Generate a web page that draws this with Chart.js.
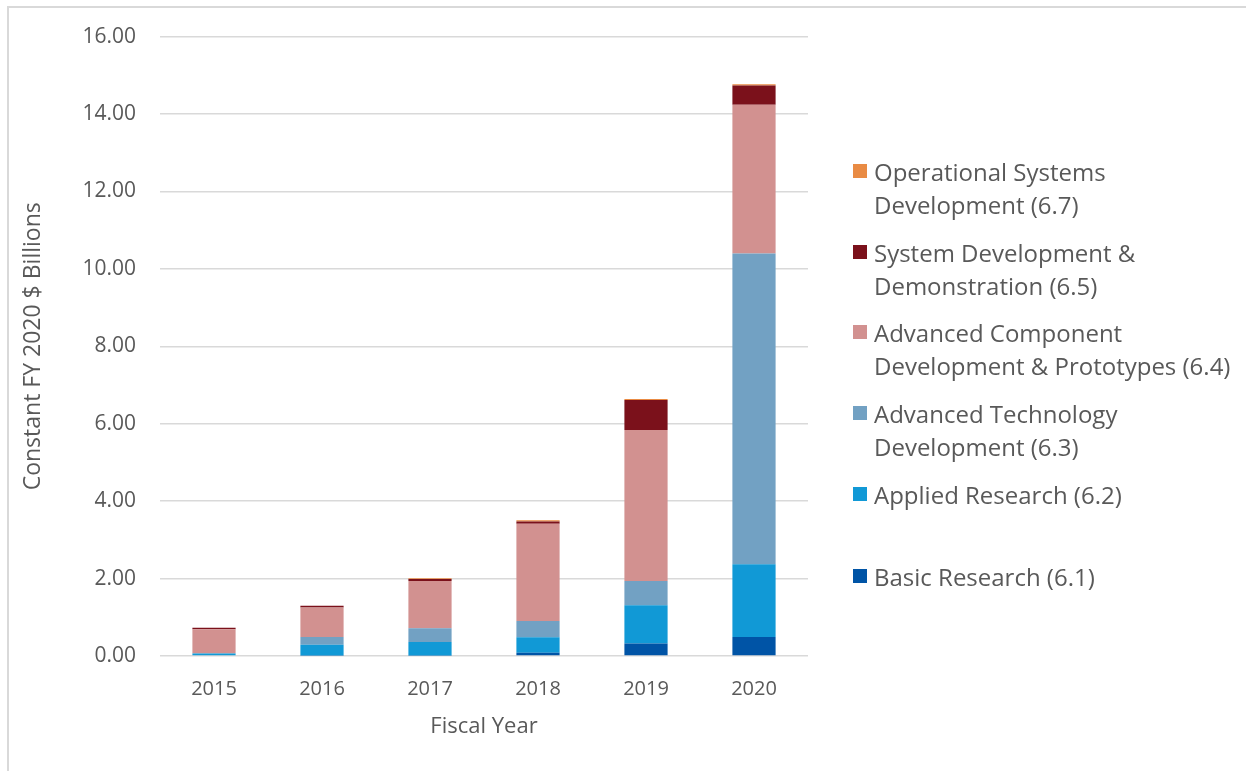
<!DOCTYPE html>
<html>
<head>
<meta charset="utf-8">
<script src="https://cdn.jsdelivr.net/npm/chart.js@4.4.0/dist/chart.umd.min.js"></script>
<style>
  html, body { margin: 0; padding: 0; background: #ffffff; }
  #wrap { position: relative; width: 1246px; height: 771px; overflow: hidden; font-family: "Open Sans", sans-serif; }
  #frame { position: absolute; left: 7px; top: 6px; right: -10px; bottom: -10px; border-left: 2px solid #d9d9d9; border-top: 2px solid #d9d9d9; pointer-events: none; }
  #c { position: absolute; left: 0; top: 0; }
  #legend { position: absolute; left: 0; top: 0; width: 1246px; height: 771px; pointer-events: none; }
  .item { position: absolute; left: 853px; display: flex; align-items: flex-start; }
  .sw { width: 14px; height: 14px; margin-top: 9px; margin-right: 7px; flex: none; }
  .txt { font-family: "Open Sans", sans-serif; font-size: 24px; line-height: 33px; color: #595959; white-space: nowrap; }
</style>
</head>
<body>
<div id="wrap">
  <canvas id="c" width="1246" height="771"></canvas>
  <div id="frame"></div>
  <div id="legend"></div>
</div>
<script>
const years = ["2015", "2016", "2017", "2018", "2019", "2020"];

const basicResearch      = [0.00, 0.01, 0.01, 0.085, 0.32, 0.49];
const appliedResearch    = [0.06, 0.28, 0.35, 0.40, 0.99, 1.88];
const advTechDev         = [0.02, 0.20, 0.36, 0.42, 0.63, 8.03];
const advComponentDev    = [0.61, 0.76, 1.22, 2.51, 3.90, 3.84];
const systemDevDemo      = [0.04, 0.05, 0.05, 0.06, 0.77, 0.50];
const operationalSysDev  = [0.00, 0.00, 0.02, 0.03, 0.03, 0.03];

const seriesNames = [
  ["Basic Research (6.1)"],
  ["Applied Research (6.2)"],
  ["Advanced Technology", "Development (6.3)"],
  ["Advanced Component", "Development & Prototypes (6.4)"],
  ["System Development &", "Demonstration (6.5)"],
  ["Operational Systems", "Development (6.7)"]
];
const seriesColors = ["#0054a6", "#1199d6", "#72a1c3", "#d29190", "#7b111b", "#e98b44"];
const seriesValues = [basicResearch, appliedResearch, advTechDev, advComponentDev, systemDevDemo, operationalSysDev];

const yTicks = [0, 2, 4, 6, 8, 10, 12, 14, 16];

const textColor = "#595959";
const gridColor = "#d9d9d9";

const datasets = seriesValues.map((vals, i) => ({
  label: seriesNames[i].join(" "),
  data: vals,
  backgroundColor: seriesColors[i],
  borderWidth: 0,
  barPercentage: 0.4,
  categoryPercentage: 1.0
}));

const chart = new Chart(document.getElementById("c"), {
  type: "bar",
  data: { labels: years, datasets: datasets },
  options: {
    responsive: false,
    animation: false,
    devicePixelRatio: 1,
    layout: { padding: { left: 0, right: 438, top: 36, bottom: 31 } },
    plugins: { legend: { display: false }, tooltip: { enabled: false } },
    scales: {
      x: {
        stacked: true,
        grid: { display: false, drawTicks: false },
        border: { display: false },
        ticks: { color: textColor, font: { family: "Open Sans", size: 20 }, padding: 21 },
        title: { display: true, text: "Fiscal Year", color: textColor, font: { family: "Open Sans", size: 22 }, padding: { top: 6, bottom: 0 } },
        afterFit: (s) => { s.height = 84; }
      },
      y: {
        stacked: true,
        min: yTicks[0],
        max: yTicks[yTicks.length - 1],
        afterBuildTicks: (s) => { s.ticks = yTicks.map(v => ({ value: v })); },
        grid: { color: gridColor, lineWidth: 1.5, drawTicks: false },
        border: { display: false },
        ticks: {
          color: textColor, font: { family: "Open Sans", size: 21 }, padding: 24,
          callback: (v) => Number(v).toFixed(2)
        },
        title: { display: true, text: "Constant FY 2020 $ Billions", color: textColor, font: { family: "Open Sans", size: 23 }, padding: { top: 20, bottom: 0 } },
        afterFit: (s) => { s.width = 160; }
      }
    }
  }
});

// HTML legend built from the series (reverse order, as in the reference)
const legendCenters = [576, 494, 413, 332, 252, 171];
const legendEl = document.getElementById("legend");
for (let i = seriesNames.length - 1; i >= 0; i--) {
  const item = document.createElement("div");
  item.className = "item";
  item.style.top = (legendCenters[i] - 16) + "px";
  const sw = document.createElement("div");
  sw.className = "sw";
  sw.style.background = seriesColors[i];
  const txt = document.createElement("div");
  txt.className = "txt";
  seriesNames[i].forEach((line, k) => {
    if (k > 0) txt.appendChild(document.createElement("br"));
    txt.appendChild(document.createTextNode(line));
  });
  item.appendChild(sw);
  item.appendChild(txt);
  legendEl.appendChild(item);
}
</script>
</body>
</html>
